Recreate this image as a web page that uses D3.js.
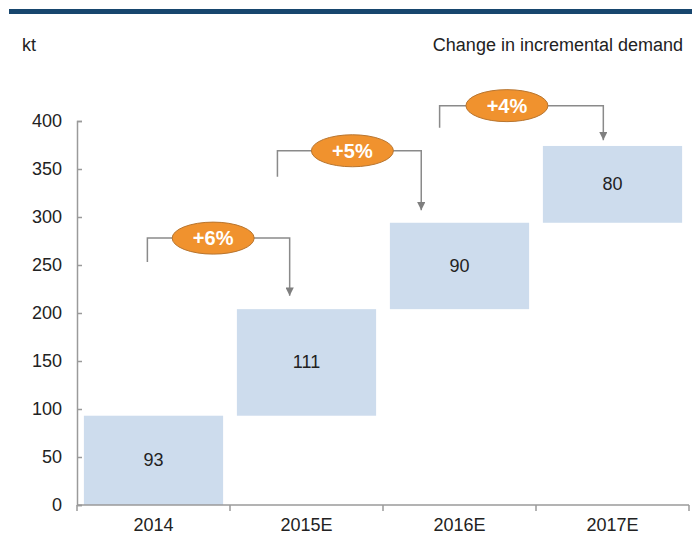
<!DOCTYPE html>
<html>
<head>
<meta charset="utf-8">
<script src="https://cdn.jsdelivr.net/npm/d3@7"></script>
<style>
  body { margin: 0; background: #fff; }
  svg { display: block; font-family: 'Liberation Sans', Arial, sans-serif; }
</style>
</head>
<body>
<svg id="chart" width="692" height="555"></svg>
<script>
// Waterfall data (kt)
const categories = ['2014', '2015E', '2016E', '2017E'];
const increments = [93, 111, 90, 80];
const yTicks = [0, 50, 100, 150, 200, 250, 300, 350, 400];
const growthLabels = ['+6%', '+5%', '+4%'];

const width = 692;
const height = 555;
const svg = d3.select('#chart');

// running totals for the floating bars
let running = 0;
const bars = categories.map((c, i) => {
    const start = running;
    running += increments[i];
    return { cat: c, start: start, end: running, value: increments[i] };
});

const x = d3.scaleBand()
    .domain(categories)
    .range([77, 689])
    .paddingInner(0.09)
    .paddingOuter(0.045);

const y = d3.scaleLinear()
    .domain([0, 400])
    .range([505, 121]);

const step = x.step();
const bandStart = c => 77 + categories.indexOf(c) * step;

// Top rule
svg.append('rect')
    .attr('x', 9).attr('y', 9)
    .attr('width', width - 9).attr('height', 5)
    .attr('fill', '#17466e');

svg.append('text')
    .attr('x', 22).attr('y', 51)
    .style('font-size', '18px')
    .style('fill', '#222')
    .text('kt');

svg.append('text')
    .attr('x', 683).attr('y', 51)
    .attr('text-anchor', 'end')
    .style('font-size', '18px')
    .style('fill', '#222')
    .text('Change in incremental demand');

// Bars
svg.selectAll('.bar')
    .data(bars)
    .enter().append('rect')
    .attr('class', 'bar')
    .attr('x', d => x(d.cat))
    .attr('y', d => y(d.end))
    .attr('width', x.bandwidth())
    .attr('height', d => y(d.start) - y(d.end))
    .attr('fill', '#cddced');

svg.selectAll('.bar-label')
    .data(bars)
    .enter().append('text')
    .attr('class', 'bar-label')
    .attr('x', d => x(d.cat) + x.bandwidth() / 2)
    .attr('y', d => y((d.start + d.end) / 2) + 6)
    .attr('text-anchor', 'middle')
    .style('font-size', '18px')
    .style('fill', '#222')
    .text(d => d.value);

// Y axis
const yAxis = d3.axisLeft(y)
    .tickValues(yTicks)
    .tickSize(-5)
    .tickPadding(15);

const gy = svg.append('g')
    .attr('transform', 'translate(77,0)')
    .call(yAxis);
gy.select('.domain').attr('stroke', '#9a9a9a').attr('stroke-width', 1.5);
gy.selectAll('.tick line').attr('stroke', '#9a9a9a').attr('stroke-width', 1.5);
gy.selectAll('.tick text')
    .style('font-size', '18px')
    .style('fill', '#222')
    .attr('font-family', "'Liberation Sans', Arial, sans-serif");

// X axis
const xAxis = d3.axisBottom(x).tickSize(0).tickPadding(13);
const gx = svg.append('g')
    .attr('transform', 'translate(0,505)')
    .call(xAxis);
gx.select('.domain').remove();
gx.selectAll('.tick text')
    .style('font-size', '18px')
    .style('fill', '#222')
    .attr('font-family', "'Liberation Sans', Arial, sans-serif");

svg.append('line')
    .attr('x1', 77).attr('x2', 689)
    .attr('y1', 505).attr('y2', 505)
    .attr('stroke', '#9a9a9a').attr('stroke-width', 1.5);

const boundaries = categories.map(bandStart).concat([77 + categories.length * step]);
svg.selectAll('.xtick')
    .data(boundaries)
    .enter().append('line')
    .attr('x1', d => d).attr('x2', d => d)
    .attr('y1', 505).attr('y2', 511)
    .attr('stroke', '#9a9a9a').attr('stroke-width', 1.5);

// Growth annotations: bracket from one column to the next, arrow pointing down
const notes = [
    { from: 0, to: 1, startVal: 253, level: 278, tipVal: 218, fl: 0.46, fr: 0.39, fe: 0.89 },
    { from: 1, to: 2, startVal: 342, level: 369, tipVal: 307, fl: 0.31, fr: 0.25, fe: 0.80 },
    { from: 2, to: 3, startVal: 393, level: 416, tipVal: 380, fl: 0.37, fr: 0.44, fe: 0.81 }
];

svg.append('defs').append('marker')
    .attr('id', 'arrow')
    .attr('viewBox', '0 0 10 10')
    .attr('refX', 10).attr('refY', 5)
    .attr('markerWidth', 5.5).attr('markerHeight', 5.5)
    .attr('orient', 'auto')
    .append('path')
    .attr('d', 'M0,0 L10,5 L0,10 Z')
    .attr('fill', '#7f7f7f');

notes.forEach((n, i) => {
    const xl = bandStart(categories[n.from]) + n.fl * step;
    const xr = bandStart(categories[n.to]) + n.fr * step;
    const yl = y(n.level);
    svg.append('path')
        .attr('d', `M${xl},${y(n.startVal)} V${yl} H${xr} V${y(n.tipVal)}`)
        .attr('fill', 'none')
        .attr('stroke', '#8a8a8a')
        .attr('stroke-width', 1.5)
        .attr('marker-end', 'url(#arrow)');

    const cx = bandStart(categories[n.from]) + n.fe * step;
    svg.append('ellipse')
        .attr('cx', cx).attr('cy', yl)
        .attr('rx', 41).attr('ry', 16)
        .attr('fill', '#f0922e')
        .attr('stroke', '#b8752f')
        .attr('stroke-width', 1);

    svg.append('text')
        .attr('x', cx).attr('y', yl + 7)
        .attr('text-anchor', 'middle')
        .style('font-size', '20px')
        .style('font-weight', 'bold')
        .style('fill', '#fff')
        .text(growthLabels[i]);
});
</script>
</body>
</html>
